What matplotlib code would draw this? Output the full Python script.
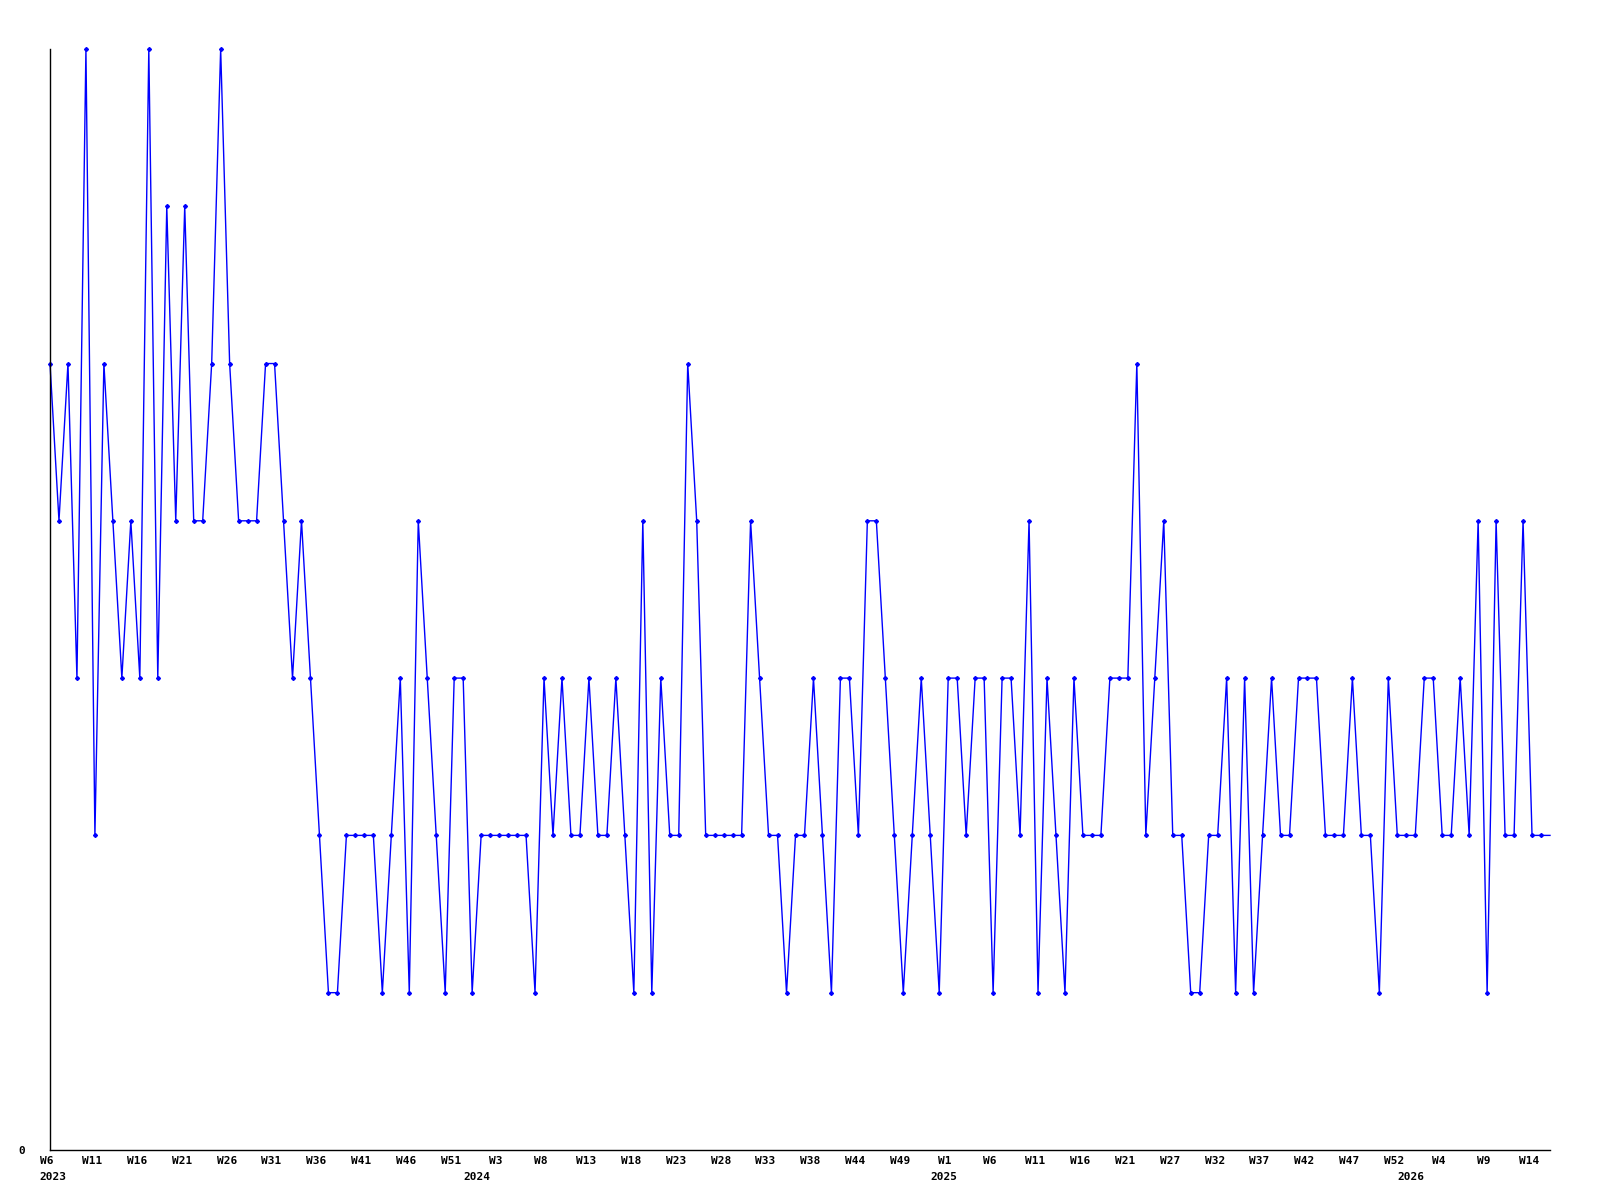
import numpy as np
import matplotlib
matplotlib.use("Agg")
import matplotlib.pyplot as plt
import matplotlib.transforms as mtransforms

# weekly values, one per week starting 2023 W6
values = [5, 4, 5, 3, 7, 2, 5, 4, 3, 4,
          3, 7, 3, 6, 4, 6, 4, 4, 5, 7,
          5, 4, 4, 4, 5, 5, 4, 3, 4, 3,
          2, 1, 1, 2, 2, 2, 2, 1, 2, 3,
          1, 4, 3, 2, 1, 3, 3, 1, 2, 2,
          2, 2, 2, 2, 1, 3, 2, 3, 2, 2,
          3, 2, 2, 3, 2, 1, 4, 1, 3, 2,
          2, 5, 4, 2, 2, 2, 2, 2, 4, 3,
          2, 2, 1, 2, 2, 3, 2, 1, 3, 3,
          2, 4, 4, 3, 2, 1, 2, 3, 2, 1,
          3, 3, 2, 3, 3, 1, 3, 3, 2, 4,
          1, 3, 2, 1, 3, 2, 2, 2, 3, 3,
          3, 5, 2, 3, 4, 2, 2, 1, 1, 2,
          2, 3, 1, 3, 1, 2, 3, 2, 2, 3,
          3, 3, 2, 2, 2, 3, 2, 2, 1, 3,
          2, 2, 2, 3, 3, 2, 2, 3, 2, 4,
          1, 4, 2, 2, 4, 2, 2, 2]

week_labels = ["W6", "W11", "W16", "W21", "W26", "W31", "W36", "W41", "W46", "W51",
               "W3", "W8", "W13", "W18", "W23", "W28", "W33", "W38", "W44", "W49",
               "W1", "W6", "W11", "W16", "W21", "W27", "W32", "W37", "W42", "W47",
               "W52", "W4", "W9", "W14"]
year_labels = ["2023", "2024", "2025", "2026"]
year_pos = [0, 48, 100, 152]

x = np.arange(len(values))
tick_pos = np.arange(0, 5 * len(week_labels), 5)

fig = plt.figure(figsize=(16, 12), dpi=100)
ax = fig.add_axes([0.03125, 0.0417, 0.9375, 0.9175])

ax.plot(x, values, color="#0000ff", linewidth=1, marker="D", markersize=2,
        markevery=list(range(len(values) - 1)), clip_on=False)

ax.set_xlim(0, len(values) - 1)
ax.set_ylim(0, 7)

for s in ["top", "right"]:
    ax.spines[s].set_visible(False)
for s in ["left", "bottom"]:
    ax.spines[s].set_linewidth(1)
    ax.spines[s].set_color("black")

font = dict(family="DejaVu Sans Mono", weight="bold", size=8)
ax.set_xticks(tick_pos)
ax.set_xticklabels(week_labels, **font)
ax.tick_params(axis="x", length=0, pad=4)
shift = mtransforms.ScaledTranslation(-3 / 100, 0, fig.dpi_scale_trans)
for lbl in ax.get_xticklabels():
    lbl.set_transform(lbl.get_transform() + shift)
ax.set_yticks([0])
ax.set_yticklabels(["0"], **font)
ax.tick_params(axis="y", length=0, pad=18)

for i, (lab, pos) in enumerate(zip(year_labels, year_pos)):
    if i == 0:
        ax.annotate(lab, xy=(pos, 0), xycoords=("data", "axes fraction"),
                    xytext=(-7.5, -19.5), textcoords="offset points",
                    ha="left", va="center", **font)
    else:
        ax.annotate(lab, xy=(pos, 0), xycoords=("data", "axes fraction"),
                    xytext=(-3, -19.5), textcoords="offset points",
                    ha="center", va="center", **font)

fig.savefig("out.png", dpi=100)
